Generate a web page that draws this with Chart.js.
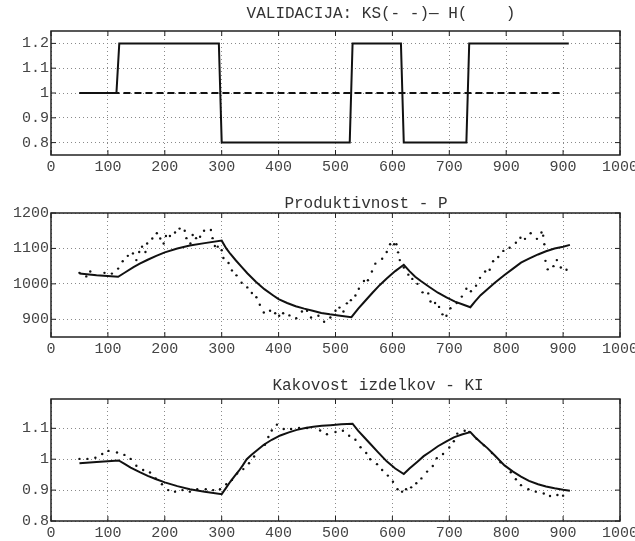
<!DOCTYPE html>
<html>
<head>
<meta charset="utf-8">
<script src="https://cdn.jsdelivr.net/npm/chart.js@4.4.1/dist/chart.umd.min.js"></script>
<style>
body { margin: 0; background: #fff; width: 635px; height: 541px; position: relative; overflow: hidden; }
canvas { position: absolute; left: 0; }
.ttl { position: absolute; z-index: 2; font-family: "Liberation Mono", monospace; font-size: 16px; color: #333; white-space: pre; transform: translate(-50%, -50%); }
</style>
</head>
<body>
<canvas id="c1" width="635" height="180" style="top:0"></canvas>
<canvas id="c2" width="635" height="180" style="top:180px"></canvas>
<canvas id="c3" width="635" height="181" style="top:360px"></canvas>
<div class="ttl" style="left:381px;top:14px">VALIDACIJA: KS(- -)&#8212; H(    )</div>
<div class="ttl" style="left:366px;top:204px">Produktivnost - P</div>
<div class="ttl" style="left:378px;top:386px">Kakovost izdelkov - KI</div>
<script>
// x ticks (top plot really prints "900" twice)
const xTicks = [0, 100, 200, 300, 400, 500, 600, 700, 800, 900, 1000];
const xLabelsTop = ['0', '100', '200', '300', '400', '500', '600', '700', '900', '900', '1000'];

// validation inputs
const ksX = [50, 900];
const ksY = [1, 1];
const hX = [50, 115, 120, 295, 300, 525, 530, 615, 620, 730, 735, 910];
const hY = [1, 1, 1.2, 1.2, 0.8, 0.8, 1.2, 1.2, 0.8, 0.8, 1.2, 1.2];
const valTicks = [0.8, 0.9, 1, 1.1, 1.2];

// Produktivnost - model (solid)
const pModX = [50, 80, 118, 130, 145, 156, 170, 185, 200, 222, 244, 270, 300,
  308, 315, 325, 335, 345, 360, 375, 390, 400, 415, 430, 445, 460, 475, 490, 505, 528,
  540, 550, 565, 578, 590, 605, 620,
  630, 640, 650, 665, 680, 695, 710, 725, 737,
  745, 755, 767, 780, 797, 812, 826, 840, 856, 870, 885, 900, 912];
const pModY = [1029, 1024, 1020, 1032, 1047, 1057, 1068, 1079, 1089, 1100, 1108, 1115, 1122,
  1100, 1085, 1066, 1048, 1030, 1006, 985, 968, 957, 946, 937, 930, 924, 918, 914, 911, 906,
  930, 948, 975, 997, 1015, 1036, 1054,
  1036, 1020, 1008, 991, 975, 962, 950, 941, 934,
  950, 968, 985, 1003, 1025, 1043, 1060, 1071, 1083, 1092, 1100, 1105, 1110];
// Produktivnost - measured (dots)
const pMeasX = [50, 62, 69, 94, 107, 118, 126, 135, 144, 150, 155, 160, 166, 169, 178, 186, 192, 198, 202, 209, 218, 226, 235, 238,
  245, 249, 255, 262, 269, 281, 284, 288, 293, 300, 303, 312, 318, 326, 335, 345, 353, 361, 367, 374, 385, 394, 401, 408, 419,
  431, 441, 450, 457, 470, 480, 491, 500, 507, 514, 520, 527, 535, 541, 550, 557, 564, 570, 582, 590, 596, 603, 607, 610, 613,
  620, 628, 635, 644, 653, 663, 667, 675, 682, 688, 695, 702, 713, 722, 730, 738, 747, 754, 763, 771, 777, 786, 795, 806, 817,
  825, 833, 843, 854, 862, 865, 867, 869, 873, 883, 889, 896, 906];
const pMeasY = [1031, 1021, 1035, 1031, 1029, 1043, 1064, 1079, 1086, 1067, 1090, 1105, 1090, 1114, 1128, 1143, 1128, 1114, 1135, 1135,
  1145, 1156, 1150, 1129, 1114, 1138, 1129, 1133, 1150, 1152, 1129, 1107, 1105, 1095, 1073, 1059, 1038, 1024, 1003, 990, 974, 962,
  941, 919, 924, 917, 910, 917, 911, 903, 922, 924, 905, 910, 893, 905, 924, 933, 922, 945, 954, 967, 986, 1008, 1010, 1035, 1057,
  1071, 1090, 1112, 1112, 1112, 1089, 1067, 1046, 1026, 1014, 1000, 976, 973, 950, 946, 935, 914, 910, 931, 946, 964, 986, 979,
  995, 1017, 1035, 1040, 1064, 1076, 1093, 1102, 1116, 1130, 1127, 1143, 1127, 1145, 1136, 1112, 1065, 1041, 1050, 1067, 1046, 1040];
const prodTicks = [900, 1000, 1100, 1200];

// Kakovost izdelkov - model (solid)
const kModX = [50, 80, 119, 130, 140, 156, 170, 185, 200, 222, 244, 270, 300,
  308, 315, 322, 330, 337, 344, 352, 360, 374, 388, 403, 418, 432, 447, 461, 476, 491, 510, 530,
  540, 550, 561, 575, 590, 605, 620,
  630, 644, 655, 667, 680, 695, 708, 722, 737,
  745, 755, 767, 780, 797, 812, 826, 840, 856, 870, 885, 900, 912];
const kModY = [0.987, 0.991, 0.996, 0.984, 0.973, 0.958, 0.946, 0.935, 0.925, 0.913, 0.903, 0.895, 0.887,
  0.908, 0.927, 0.944, 0.962, 0.980, 1.0, 1.014, 1.026, 1.047, 1.063, 1.077, 1.087, 1.095, 1.101, 1.105, 1.108, 1.110, 1.113, 1.115,
  1.092, 1.072, 1.050, 1.022, 0.993, 0.970, 0.952,
  0.970, 0.992, 1.010, 1.025, 1.042, 1.058, 1.071, 1.080, 1.088,
  1.072, 1.055, 1.036, 1.012, 0.980, 0.960, 0.944, 0.930, 0.919, 0.912, 0.906, 0.901, 0.898];
// Kakovost izdelkov - measured (dots)
const kMeasX = [50, 64, 78, 90, 101, 116, 129, 140, 150, 162, 174, 184, 195, 206, 218, 231, 244, 257, 272, 285, 297, 308, 318, 327,
  338, 348, 357, 376, 382, 388, 397, 409, 422, 436, 450, 473, 485, 500, 513, 524, 535, 544, 554, 561, 573, 582, 592, 601, 609,
  617, 624, 633, 642, 651, 661, 671, 678, 689, 700, 708, 714, 727, 735, 748, 761, 775, 790, 808, 817, 826, 839, 852, 866, 877,
  890, 900];
const kMeasY = [1.001, 1.001, 1.005, 1.017, 1.027, 1.022, 1.014, 1.001, 0.979, 0.965, 0.957, 0.938, 0.919, 0.900, 0.895, 0.900, 0.895,
  0.903, 0.903, 0.900, 0.903, 0.919, 0.933, 0.954, 0.968, 0.987, 1.009, 1.047, 1.072, 1.093, 1.112, 1.098, 1.098, 1.101, 1.101,
  1.093, 1.081, 1.088, 1.092, 1.076, 1.063, 1.039, 1.020, 1.000, 0.984, 0.965, 0.947, 0.927, 0.903, 0.895, 0.903, 0.909, 0.922,
  0.938, 0.960, 0.978, 1.003, 1.017, 1.038, 1.058, 1.083, 1.092, 1.088, 1.066, 1.045, 1.020, 0.990, 0.958, 0.935, 0.916, 0.903,
  0.895, 0.889, 0.881, 0.884, 0.882];
const kakTicks = [0.8, 0.9, 1, 1.1];

const FONT = { family: '"Liberation Mono", monospace', size: 15 };
const TXT = '#444';

function pairs(xs, ys) {
  return xs.map((x, i) => ({ x: x, y: ys[i] }));
}

// frame round the plot plus small inward tick marks, matlab style
const boxPlugin = {
  id: 'box',
  afterDraw(chart) {
    const a = chart.chartArea;
    const ctx = chart.ctx;
    const sx = chart.scales.x, sy = chart.scales.y;
    ctx.save();
    ctx.strokeStyle = '#222';
    ctx.lineWidth = 1;
    ctx.beginPath();
    sx.ticks.forEach(t => {
      const px = sx.getPixelForValue(t.value);
      ctx.moveTo(px, a.top); ctx.lineTo(px, a.top + 5);
      ctx.moveTo(px, a.bottom); ctx.lineTo(px, a.bottom - 5);
    });
    sy.ticks.forEach(t => {
      const py = sy.getPixelForValue(t.value);
      ctx.moveTo(a.left, py); ctx.lineTo(a.left + 5, py);
      ctx.moveTo(a.right, py); ctx.lineTo(a.right - 5, py);
    });
    ctx.stroke();
    ctx.lineWidth = 1.5;
    ctx.strokeRect(a.left, a.top, a.right - a.left, a.bottom - a.top);
    ctx.restore();
  }
};

function makeChart(id, datasets, yMin, yMax, yTicks, xLabels, padTop, xHeight) {
  new Chart(document.getElementById(id), {
    type: 'line',
    data: { datasets: datasets },
    options: {
      responsive: false,
      animation: false,
      layout: { padding: { top: padTop, right: 15, left: 0, bottom: 0 } },
      plugins: { legend: { display: false }, tooltip: { enabled: false } },
      scales: {
        x: {
          type: 'linear',
          min: 0,
          max: 1000,
          afterBuildTicks: s => { s.ticks = xTicks.map(v => ({ value: v })); },
          afterFit: s => { s.height = xHeight; s.paddingLeft = 0; s.paddingRight = 0; },
          ticks: {
            font: FONT, color: TXT, padding: 3, maxRotation: 0, autoSkip: false,
            callback: (v, i) => xLabels ? xLabels[i] : String(v)
          },
          grid: { color: '#8a8a8a', lineWidth: 1, drawTicks: false },
          border: { display: false, dash: [1, 3] }
        },
        y: {
          min: yMin,
          max: yMax,
          afterBuildTicks: s => { s.ticks = yTicks.map(v => ({ value: v })); },
          afterFit: s => { s.width = 51; s.paddingTop = 0; s.paddingBottom = 0; },
          ticks: { font: FONT, color: TXT, padding: 2, callback: v => String(v) },
          grid: { color: '#8a8a8a', lineWidth: 1, drawTicks: false },
          border: { display: false, dash: [1, 3] }
        }
      }
    },
    plugins: [boxPlugin]
  });
}

const solid = { borderColor: '#111', borderWidth: 2, pointRadius: 0, fill: false, tension: 0 };
const dots = { showLine: false, pointRadius: 1.2, pointBackgroundColor: '#111', pointBorderWidth: 0, borderColor: '#111' };

makeChart('c1', [
  Object.assign({ data: pairs(ksX, ksY), borderDash: [7, 4] }, solid),
  Object.assign({ data: pairs(hX, hY) }, solid)
], 0.75, 1.25, valTicks, xLabelsTop, 31, 25);

makeChart('c2', [
  Object.assign({ data: pairs(pMeasX, pMeasY) }, dots),
  Object.assign({ data: pairs(pModX, pModY) }, solid)
], 850, 1200, prodTicks, null, 33, 23);

makeChart('c3', [
  Object.assign({ data: pairs(kMeasX, kMeasY) }, dots),
  Object.assign({ data: pairs(kModX, kModY) }, solid)
], 0.8, 1.195, kakTicks, null, 39, 20);
</script>
</body>
</html>
